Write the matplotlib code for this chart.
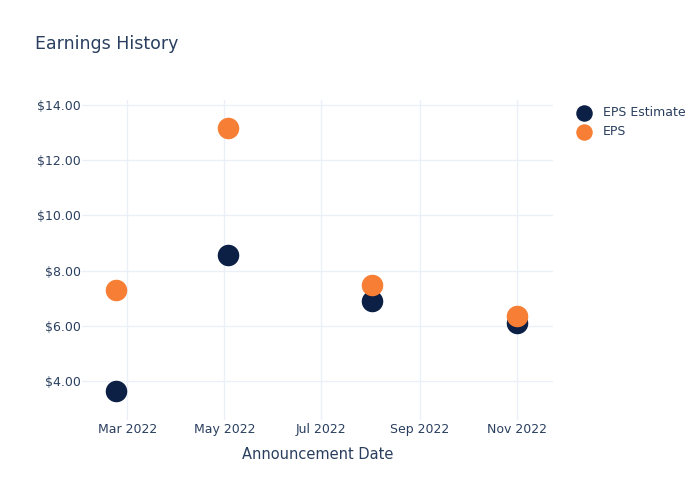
import matplotlib
matplotlib.use("Agg")
import matplotlib.pyplot as plt
import matplotlib.dates as mdates
import numpy as np

# data
dates = np.array(["2022-02-22", "2022-05-03", "2022-08-02", "2022-11-01"], dtype="datetime64[D]")
eps_estimate = [3.64, 8.57, 6.90, 6.10]
eps_actual = [7.30, 13.17, 7.48, 6.36]

txt = "#2a3f5f"
grid = "#ebf0f8"

fig = plt.figure(figsize=(7, 5), dpi=100)
ax = fig.add_axes([0.117, 0.16, 0.673, 0.64])

ax.scatter(dates, eps_estimate, s=210, color="#0c1f45", label="EPS Estimate", zorder=3)
ax.scatter(dates, eps_actual, s=210, color="#f77f35", label="EPS", zorder=4)

ax.set_xlim(np.datetime64("2022-01-31T12"), np.datetime64("2022-11-23T12"))
ax.set_ylim(2.59, 14.18)

ax.xaxis.set_major_locator(mdates.MonthLocator(bymonth=[3, 5, 7, 9, 11]))
ax.xaxis.set_major_formatter(mdates.DateFormatter("%b %Y"))
ax.set_yticks([4, 6, 8, 10, 12, 14])
ax.yaxis.set_major_formatter(plt.FuncFormatter(lambda v, p: "${:.2f}".format(v)))

ax.grid(True, color=grid, linewidth=1)
ax.set_axisbelow(True)
for sp in ax.spines.values():
    sp.set_visible(False)
ax.tick_params(length=0, labelsize=9, colors=txt)
ax.tick_params(axis="x", pad=2)
ax.tick_params(axis="y", pad=1)

ax.set_xlabel("Announcement Date", fontsize=10.5, color=txt, labelpad=8)
fig.text(0.05, 0.912, "Earnings History", fontsize=12.5, color=txt, va="center")

leg = ax.legend(loc="upper left", bbox_to_anchor=(1.015, 1.017), frameon=False,
                fontsize=9, labelcolor=txt, handletextpad=0.55, labelspacing=0.5,
                markerscale=0.75)

fig.savefig("out.png", dpi=100)
